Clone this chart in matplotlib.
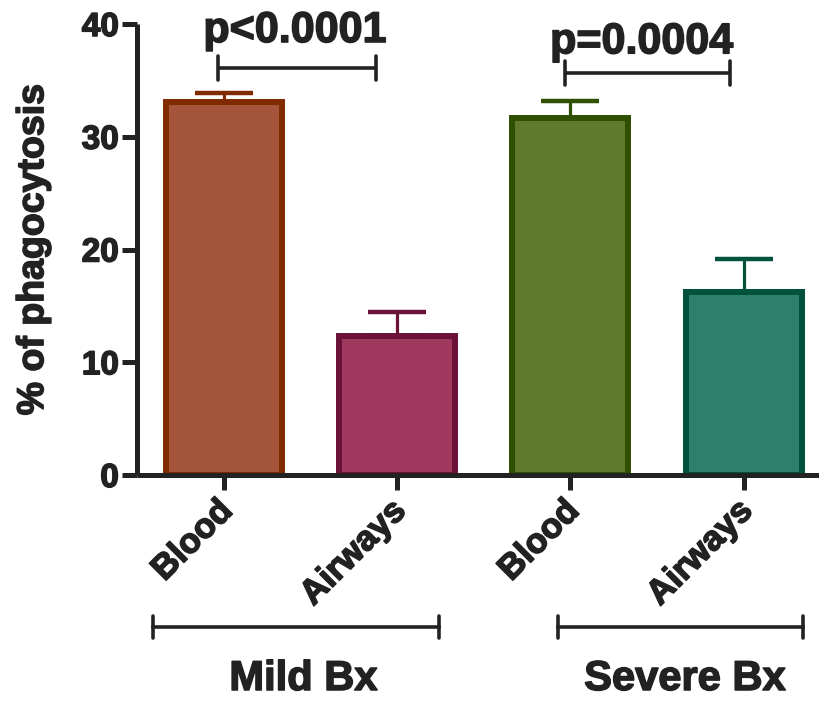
import matplotlib.pyplot as plt
import matplotlib.patheffects as pe
import numpy as np

plt.rcParams['font.family'] = ['Liberation Sans', 'DejaVu Sans']
plt.rcParams['font.weight'] = 'bold'

# data
labels = ['Blood', 'Airways', 'Blood', 'Airways']
groups = ['Mild Bx', 'Severe Bx']
means = [33.1, 12.3, 31.7, 16.2]
sem = [0.8, 2.2, 1.5, 3.0]
p_texts = ['p<0.0001', 'p=0.0004']

fills = ['#A5553A', '#A0395E', '#5F7A2E', '#2E806A']
edges = ['#7F2A00', '#6B1238', '#2F5000', '#00523D']
ink = '#222222'
heavy = [pe.withStroke(linewidth=1.1, foreground=ink)]

fig = plt.figure(figsize=(8.2, 7.01), dpi=100)
ax = fig.add_axes([137 / 820, 226 / 701, 683 / 820, 451 / 701])

x = np.arange(len(means))
for i in range(len(means)):
    ax.errorbar(x[i], means[i], yerr=[[0], [sem[i]]], fmt='none', ecolor=edges[i],
                elinewidth=2.3, capsize=21, capthick=3.2, zorder=1)
    ax.bar(x[i], means[i], width=0.67, color=fills[i], edgecolor=edges[i],
           linewidth=4.3, zorder=2)

ax.set_xlim(-0.5, 3.44)
ax.set_ylim(0, 40)
ax.set_yticks([0, 10, 20, 30, 40])
ax.set_xticks(x)
ax.set_xticklabels([])
for t in ax.get_yticklabels():
    t.set_fontsize(24)
    t.set_fontweight('bold')
    t.set_color(ink)
    t.set_path_effects(heavy)

trans = ax.get_xaxis_transform()
# rotated category labels, drawn by hand so they sit a bit left of the ticks
for i, lab in enumerate(labels):
    ax.text(x[i] - 0.046, -0.042, lab, rotation=45, ha='right', va='top',
            rotation_mode='anchor', fontsize=25, fontweight='bold', color=ink,
            transform=trans, clip_on=False, path_effects=heavy)

for s in ['top', 'right']:
    ax.spines[s].set_visible(False)
for s in ['left', 'bottom']:
    ax.spines[s].set_linewidth(3.6)
    ax.spines[s].set_color(ink)
    ax.spines[s].set_capstyle('butt')
ax.tick_params(axis='both', length=11, width=3.6, color=ink, pad=2)

ax.set_ylabel('% of phagocytosis', fontsize=27, fontweight='bold', color=ink,
              labelpad=22, path_effects=heavy)

# significance brackets
sig_y = [36.1, 35.65]
text_y = [38.4, 37.4]
right_trim = [0.12, 0.08]
for k in range(2):
    x0 = x[2 * k] - 0.03
    x1 = x[2 * k + 1] - right_trim[k]
    y = sig_y[k]
    ax.plot([x0, x1], [y, y], color=ink, lw=2.6, clip_on=False, solid_capstyle='butt')
    for xe in (x0, x1):
        ax.plot([xe, xe], [y - 1.05, y + 1.05], color=ink, lw=2.6, clip_on=False,
                solid_capstyle='round')
    ax.text(x[2 * k] + 0.41, text_y[k], p_texts[k], ha='center', va='baseline',
            fontsize=31, fontweight='bold', color=ink, clip_on=False, path_effects=heavy)

# group brackets under the axis
gy = (701 - 627 - 226) / 451
spans = [(x[0] - 0.41, x[1] + 0.24), (x[2] - 0.07, x[3] + 0.34)]
label_x = [x[0] + 0.46, x[2] + 0.66]
for k, (x0, x1) in enumerate(spans):
    ax.plot([x0, x1], [gy, gy], color=ink, lw=2.6, transform=trans, clip_on=False)
    for xe in (x0, x1):
        ax.plot([xe, xe], [gy - 0.025, gy + 0.025], color=ink, lw=2.6,
                transform=trans, clip_on=False, solid_capstyle='round')
    ax.text(label_x[k], (701 - 699 - 226) / 451, groups[k],
            ha='center', va='bottom', fontsize=30, fontweight='bold', color=ink,
            transform=trans, clip_on=False, path_effects=heavy)

fig.savefig('out.png', dpi=100)
